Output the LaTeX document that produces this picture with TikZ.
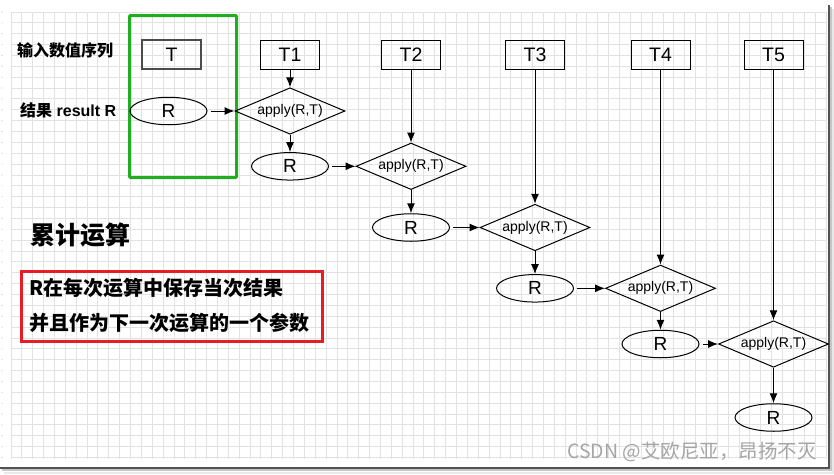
\documentclass[tikz,border=0pt]{standalone}
\usepackage{fontspec}
\setmainfont{Liberation Sans}
\newfontfamily\cjk{Noto Sans CJK SC}
\usetikzlibrary{shapes.geometric,arrows.meta}
\definecolor{gridc}{RGB}{226,226,226}
\definecolor{hlgreen}{RGB}{34,172,34}
\definecolor{hlred}{RGB}{232,28,36}
\definecolor{wmark}{RGB}{165,165,165}
\begin{document}
\begin{tikzpicture}[x=1pt,y=-1pt,
  tbox/.style={draw,line width=1pt,minimum width=59pt,minimum height=29pt,inner sep=0pt,font=\fontsize{19.5}{22}\selectfont},
  rell/.style={ellipse,draw,line width=1pt,minimum width=77pt,minimum height=27.5pt,inner sep=0pt,font=\fontsize{19}{22}\selectfont},
  applynode/.style={diamond,draw,line width=1pt,minimum width=110pt,minimum height=46.5pt,inner sep=1pt,aspect=2.36,font=\fontsize{14}{16}\selectfont},
  flow/.style={line width=1pt,-{Latex[length=10pt,width=8pt]}},
  gridline/.style={gridc,line width=1pt},
  lbl/.style={anchor=west,inner sep=0pt},
]
\useasboundingbox[fill=white] (0,0) rectangle (834,474);
% grid
\foreach \k in {0,...,75} {\draw[gridline] ({11+10.867*\k},12) -- ({11+10.867*\k},459);}
\foreach \k in {0,...,41} {\draw[gridline] (11,{12+10.867*\k}) -- (826,{12+10.867*\k});}
\foreach \k in {0,...,41} {\fill[gray!45] (2,{12+10.867*\k}) circle (0.6);}
% frame shadow
\draw[line width=2pt,gray!18] (4,472.5) -- (833,472.5) -- (833,9);
\draw[line width=2pt,gray!45] (2,470) -- (831.2,470) -- (831.2,7);
\draw[line width=2pt,black!68] (0,467.5) -- (829,467.5) -- (829,5);
% labels
\node[lbl,font=\cjk\bfseries\fontsize{16}{19}\selectfont] (l1) at (17,50) {输入数值序列};
\node[lbl,font=\bfseries\fontsize{16}{19}\selectfont] (l2) at (20,110) {{\cjk 结果} result R};
\node[lbl,font=\cjk\bfseries\fontsize{25}{28}\selectfont] (l3) at (30,235.5) {累计运算};
\node[lbl,font=\cjk\bfseries\fontsize{20}{23}\selectfont] (l4) at (29,288) {R在每次运算中保存当次结果};
\node[lbl,font=\cjk\bfseries\fontsize{20}{23}\selectfont] (l5) at (29,323) {并且作为下一次运算的一个参数};
\draw[hlred,line width=3pt] (21,271.5) rectangle (322,341);
\draw[hlgreen,line width=3pt,rounded corners=1pt] (129.5,15.5) rectangle (236.5,177.5);
\node[lbl,font=\cjk\fontsize{19.5}{22}\selectfont,text=wmark] (wm) at (567,452) {CSDN @艾欧尼亚，昂扬不灭};
% nodes
\node[tbox,draw=black!70,line width=1.4pt] (T0) at (171.5,54.5) {T};
\node[rell] (R0) at (168.5,111) {R};
\node[tbox] (T1) at (290,55) {T1};
\node[tbox] (T2) at (411,54.5) {T2};
\node[tbox] (T3) at (535,54.5) {T3};
\node[tbox] (T4) at (660.5,54.5) {T4};
\node[tbox] (T5) at (773.5,54.5) {T5};
\node[applynode] (D1) at (290,111) {apply(R,T)};
\node[applynode] (D2) at (411,166.3) {apply(R,T)};
\node[applynode] (D3) at (535,227.5) {apply(R,T)};
\node[applynode] (D4) at (660.5,288.3) {apply(R,T)};
\node[applynode] (D5) at (773.5,344) {apply(R,T)};
\node[rell] (R1) at (290,166.3) {R};
\node[rell] (R2) at (411,227.5) {R};
\node[rell] (R3) at (535,288.3) {R};
\node[rell] (R4) at (660.5,344) {R};
\node[rell] (R5) at (773.5,417.5) {R};
% connectors
\foreach \i in {1,...,5} {
  \draw[flow] (T\i.south) -- (D\i.north);
  \draw[flow] (D\i.south) -- (R\i.north);
}
\foreach \i/\j in {0/1,1/2,2/3,3/4,4/5} {
  \draw[flow,shorten <=3pt] (R\i.east) -- (D\j.west);
}
\end{tikzpicture}
\end{document}
